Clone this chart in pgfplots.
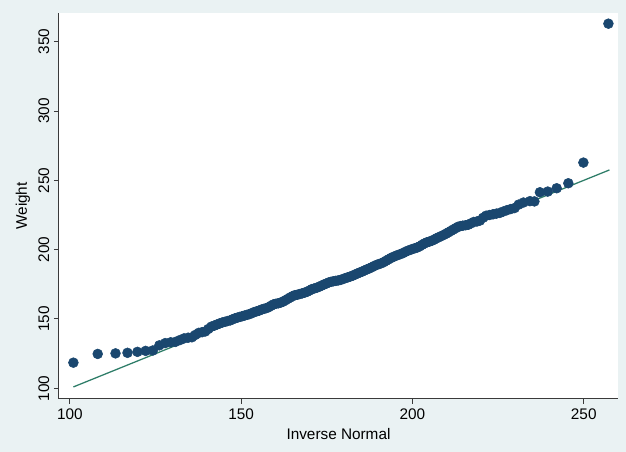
\documentclass[border=0pt]{standalone}
\usepackage{pgfplots}
\pgfplotsset{compat=1.18}
\usepackage{fontspec}
\setmainfont{Liberation Sans}
\definecolor{bgc}{HTML}{EAF2F3}
\definecolor{markc}{HTML}{1A476F}
\definecolor{linec}{HTML}{2E7D68}
\definecolor{axc}{HTML}{3A3A3A}
\begin{document}
\begin{tikzpicture}
\fill[bgc] (0,0) rectangle (469.5pt,339pt);
\begin{axis}[
  at={(44.25pt,39.75pt)}, anchor=south west,
  scale only axis, width=419.25pt, height=289.5pt,
  xmin=96.8, xmax=260, ymin=92.3, ymax=370.7,
  axis x line=bottom, axis y line=left,
  axis line style={-, axc, line width=0.75pt},
  axis background/.style={fill=white},
  tick align=outside, major tick length=3.75pt,
  tick style={axc, line width=0.75pt},
  xtick={100,150,200,250}, ytick={100,150,200,250,300,350},
  minor tick num=0,
  /pgf/number format/assume math mode=true,
  tick label style={font=\fontsize{11.5}{13}\selectfont, text=black},
  yticklabel style={rotate=90, anchor=south},
  xlabel={Inverse Normal}, ylabel={Weight},
  label style={font=\fontsize{11.5}{13}\selectfont},
  xlabel style={at={(axis description cs:0.5,-0.0907)}, anchor=center},
  ylabel style={at={(axis description cs:-0.0644,0.5)}, anchor=center, rotate=0},
  clip=false,
]
\addplot[only marks, mark=*, mark size=3.7pt, color=markc, mark options={fill=markc, draw=markc}] coordinates {
(101.0,118.5) (108.1,124.8) (113.3,125.2) (116.8,125.6) (119.7,126.3) (122.1,127.0) (124.2,127.3)
(126.1,131.0) (127.8,132.6) (129.4,133.2) (130.8,133.5) (132.1,134.8) (133.3,136.0) (134.5,136.5)
(135.6,136.8) (136.6,138.5) (137.6,140.0) (138.6,140.5) (139.5,141.0) (140.4,142.8) (141.3,144.5)
(142.1,145.2) (142.9,146.0) (143.7,146.8) (144.5,147.5) (145.3,148.0) (146.0,148.5) (146.8,149.0)
(147.5,149.8) (148.2,150.5) (148.9,151.0) (149.6,151.5) (150.3,152.0) (151.0,152.5) (151.7,153.0)
(152.4,153.5) (153.1,154.2) (153.8,155.0) (154.5,155.5) (155.2,156.0) (155.9,156.8) (156.6,157.3)
(157.3,157.8) (158.0,158.5) (158.7,159.5) (159.4,160.5) (160.1,161.0) (160.8,161.3) (161.5,161.8)
(162.2,162.5) (162.9,163.5) (163.6,164.5) (164.3,165.5) (165.0,166.5) (165.7,167.2) (166.4,167.5)
(167.1,168.0) (167.8,168.5) (168.5,169.0) (169.2,169.6) (169.9,170.5) (170.6,171.5) (171.3,172.0)
(172.0,172.5) (172.7,173.2) (173.4,174.0) (174.1,174.8) (174.8,175.5) (175.5,176.3) (176.2,176.8)
(176.9,177.2) (177.6,177.5) (178.3,177.8) (179.0,178.2) (179.7,178.8) (180.4,179.5) (181.1,180.0)
(181.8,180.6) (182.5,181.2) (183.2,182.0) (183.9,182.8) (184.6,183.5) (185.3,184.2) (186.0,185.0)
(186.7,185.8) (187.4,186.5) (188.1,187.3) (188.8,188.2) (189.5,189.0) (190.2,189.6) (190.9,190.2)
(191.6,191.0) (192.3,192.0) (193.0,193.0) (193.7,194.0) (194.4,194.8) (195.1,195.5) (195.8,196.2)
(196.5,196.8) (197.2,197.5) (197.9,198.4) (198.6,199.2) (199.3,199.8) (200.0,200.5) (200.7,201.0)
(201.4,201.6) (202.1,202.4) (202.8,203.5) (203.5,204.5) (204.2,205.3) (204.9,205.8) (205.6,206.4)
(206.3,207.2) (207.0,208.2) (207.7,209.0) (208.4,209.8) (209.1,210.6) (209.8,211.5) (210.5,212.5)
(211.2,213.5) (211.9,214.5) (212.6,215.5) (213.3,216.5) (214.0,217.0) (214.7,217.3) (215.5,217.6)
(216.3,218.0) (217.1,219.0) (217.9,220.0) (218.8,220.3) (219.7,221.0) (220.6,223.0) (221.5,224.5)
(222.5,225.0) (223.5,225.5) (224.5,226.0) (225.5,226.5) (226.5,227.5) (227.6,228.5) (228.7,229.3)
(229.8,230.0) (231.0,232.5) (232.4,234.0) (234.3,235.0) (235.6,234.8)
(237.2,241.4) (239.5,241.9) (242.1,244.3) (245.5,247.9) (249.9,262.8) (257.2,363.0)
};
\addplot[linec, line width=0.95pt] coordinates {(101.0,101.0) (257.5,257.5)};
\end{axis}
\end{tikzpicture}
\end{document}
